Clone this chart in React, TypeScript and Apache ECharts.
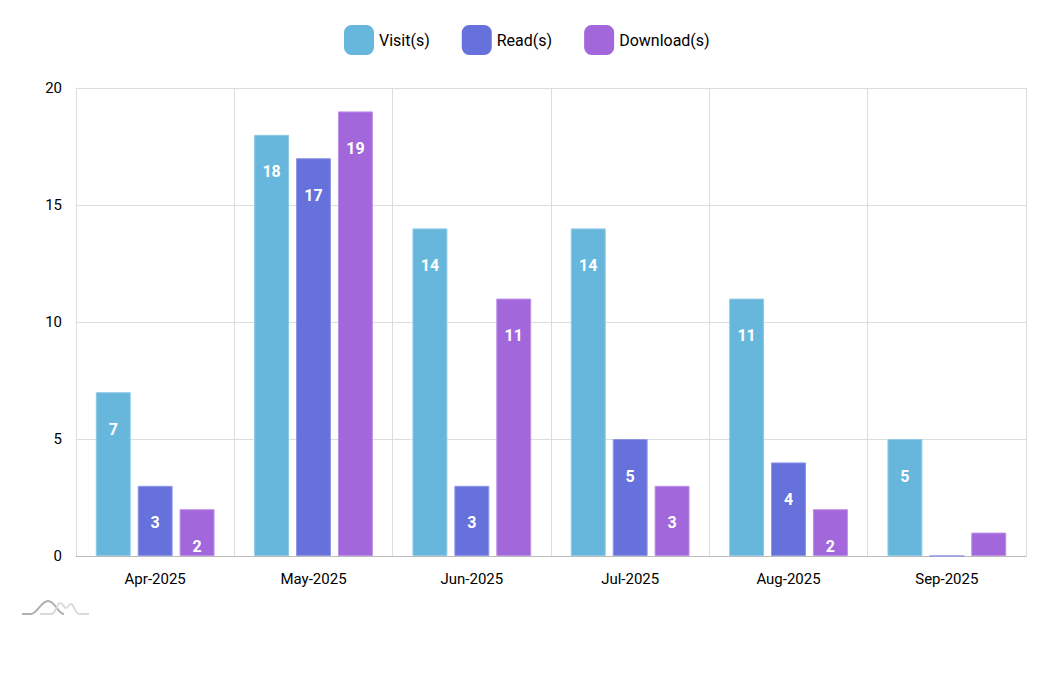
import React, { useEffect, useRef } from "react";
import * as echarts from "echarts";

const categories = ["Apr-2025", "May-2025", "Jun-2025", "Jul-2025", "Aug-2025", "Sep-2025"];
const visits = [7, 18, 14, 14, 11, 5];
const reads = [3, 17, 3, 5, 4, 0];
const downloads = [2, 19, 11, 3, 2, 1];
const seriesNames = ["Visit(s)", "Read(s)", "Download(s)"];
const colors = ["#67b7dc", "#6771dc", "#a367dc"];
const borderColors = ["#8fcbe6", "#8f96e6", "#bd8fe6"];

echarts.graphic.registerShape(
  "logoDark",
  echarts.graphic.extendPath("M0,13 L9,13 C15,13 19,0 26,0 C33,0 36,13 42,13", {})
);
echarts.graphic.registerShape(
  "logoLight",
  echarts.graphic.extendPath("M18,13 L30,13 C33,13 35,2 38,2 C41,2 42,7 44,7 C46,7 47,3 49,3 C52,3 53,13 57,13 L67,13", {})
);

export default function App() {
  const ref = useRef<HTMLDivElement>(null);
  useEffect(() => {
    if (!ref.current) return;
    const chart = echarts.init(ref.current, undefined, { renderer: "svg" });
    const data = [visits, reads, downloads];
    const font = "Roboto, 'Noto Sans', sans-serif";
    chart.setOption({
      animation: false,
      textStyle: { fontFamily: font },
      legend: {
        top: 20,
        left: 339,
        itemWidth: 30,
        itemHeight: 30,
        itemGap: 32,
        icon: "roundRect",
        itemStyle: { borderWidth: 0 },
        textStyle: { fontSize: 16, color: "#000", fontFamily: font },
        data: seriesNames,
      },
      grid: { left: 76, right: 24, top: 88, bottom: 119, containLabel: false },
      xAxis: {
        type: "category",
        data: categories,
        axisTick: { show: false },
        axisLine: { lineStyle: { color: "#bbbbbb", width: 1 } },
        axisLabel: { fontSize: 15, color: "#000", margin: 15, fontFamily: font },
        splitLine: { show: true, lineStyle: { color: "#dddddd" } },
      },
      yAxis: {
        type: "value",
        min: 0,
        max: 20,
        interval: 5,
        axisLine: { show: true, lineStyle: { color: "#dddddd" } },
        axisTick: { show: false },
        axisLabel: { fontSize: 15, color: "#000", margin: 14, fontFamily: font },
        splitLine: { show: true, lineStyle: { color: "#dddddd" } },
      },
      series: seriesNames.map((name, i) => ({
        name,
        type: "bar",
        data: data[i],
        barGap: "20%",
        barCategoryGap: "25%",
        itemStyle: { color: colors[i], borderColor: borderColors[i], borderWidth: 1 },
        label: {
          show: true,
          position: "insideTop",
          distance: 29,
          color: "#fff",
          fontSize: 16,
          fontWeight: "bold",
          fontFamily: font,
          formatter: (p: any) => (p.value >= 2 ? String(p.value) : ""),
        },
      })),
      graphic: [
        {
          type: "logoDark",
          x: 22,
          y: 601,
          style: { fill: "none", stroke: "#b0b0b0", lineWidth: 2 },
        },
        {
          type: "logoLight",
          x: 22,
          y: 601,
          style: { fill: "none", stroke: "#dadada", lineWidth: 2 },
        },
      ],
    });
    return () => chart.dispose();
  }, []);
  return (
    <div
      ref={ref}
      style={{ position: "absolute", left: 0, top: 0, width: 1050, height: 675 }}
    />
  );
}
